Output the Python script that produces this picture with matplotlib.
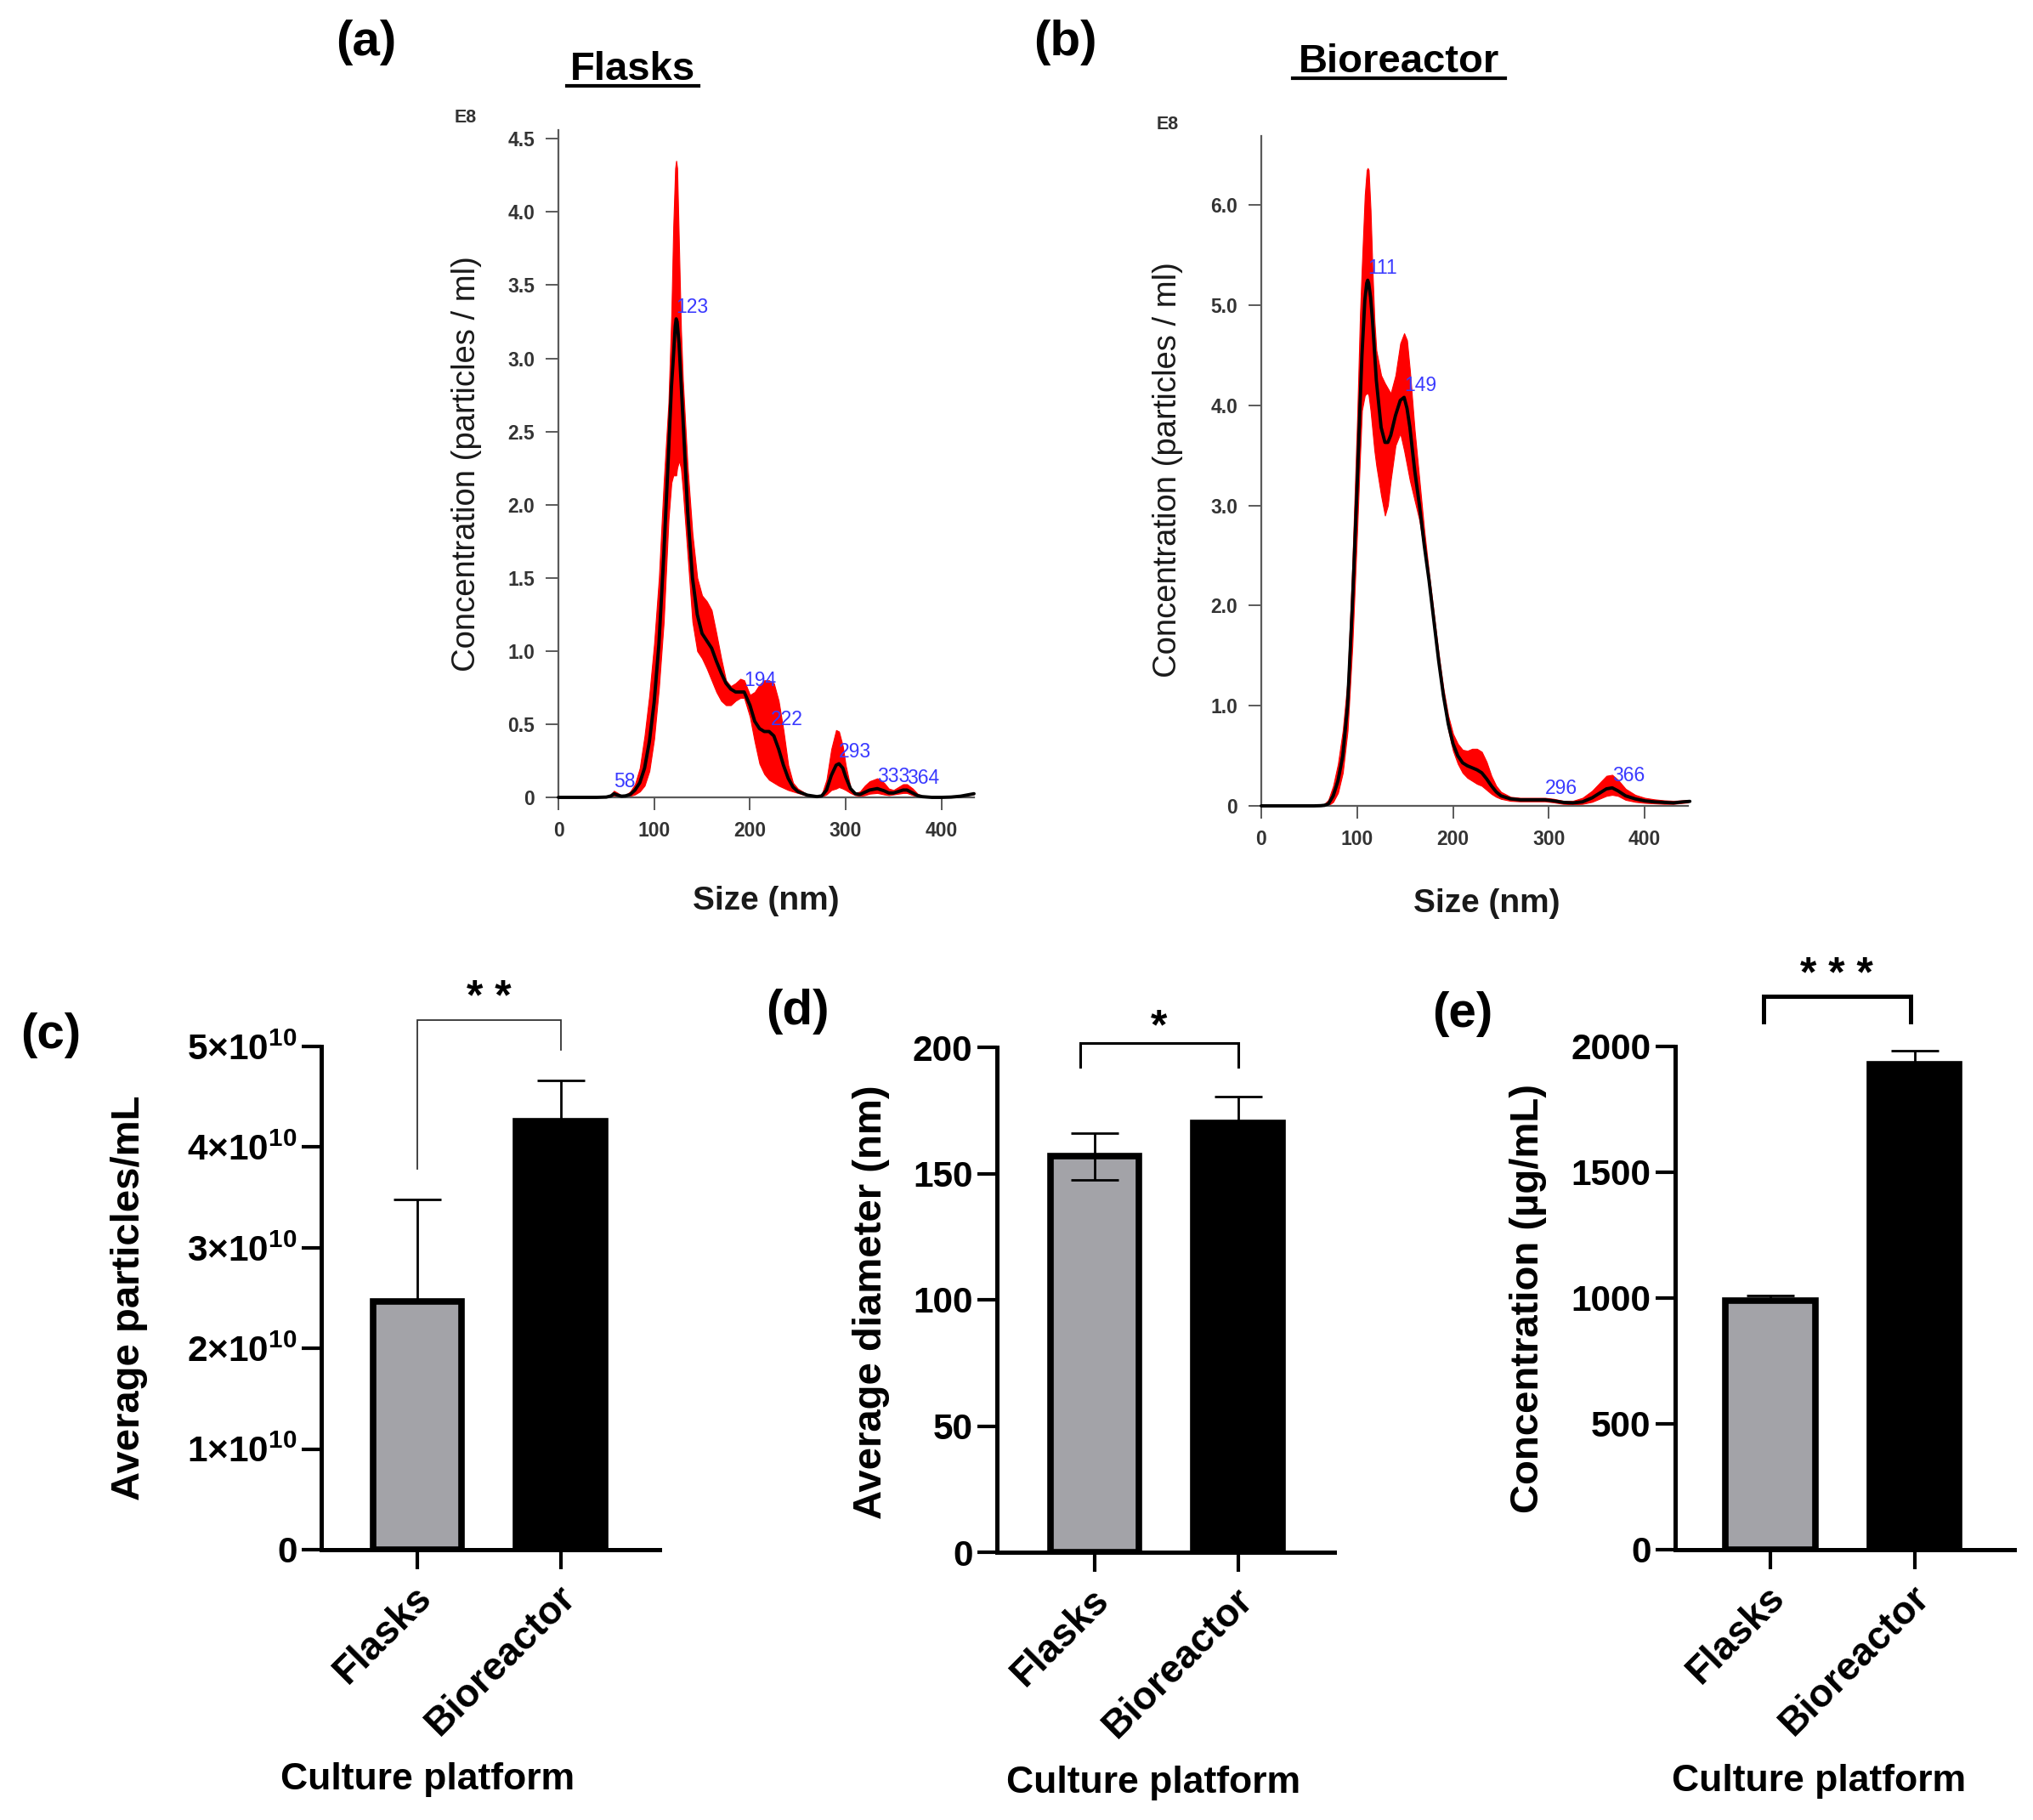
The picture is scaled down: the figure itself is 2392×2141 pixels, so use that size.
import matplotlib
matplotlib.use('Agg')
import matplotlib.pyplot as plt
from matplotlib.lines import Line2D
from matplotlib.transforms import ScaledTranslation

plt.rcParams['font.family'] = ['Liberation Sans', 'DejaVu Sans']
plt.rcParams['mathtext.fontset'] = 'custom'
plt.rcParams['mathtext.rm'] = 'Liberation Sans:bold'
plt.rcParams['mathtext.it'] = 'Liberation Sans:bold'
plt.rcParams['mathtext.bf'] = 'Liberation Sans:bold'

# ---------------- data: NTA size distribution, Flasks ----------------
sizes_a = [0, 20, 40, 50, 55, 58, 62, 66, 70, 75, 80, 85, 90, 95, 100, 105, 110, 115, 118, 120,
           122, 123, 124, 126, 128, 130, 135, 140, 145, 150, 155, 160, 165, 170, 175, 180, 185,
           190, 194, 200, 205, 210, 215, 220, 225, 230, 235, 240, 245, 250, 260, 270, 275, 280,
           285, 290, 293, 297, 300, 305, 310, 315, 320, 325, 333, 340, 345, 350, 355, 360, 364,
           370, 375, 380, 390, 400, 410, 420, 430, 434]
mean_a = [0, 0, 0, 0.002, 0.01, 0.025, 0.015, 0.008, 0.01, 0.02, 0.05, 0.1, 0.2, 0.38, 0.65, 1.05,
          1.65, 2.35, 2.8, 3.0, 3.22, 3.27, 3.25, 3.1, 2.85, 2.6, 1.95, 1.5, 1.25, 1.12, 1.07, 1.02,
          0.93, 0.85, 0.78, 0.74, 0.72, 0.72, 0.72, 0.63, 0.52, 0.47, 0.45, 0.45, 0.42, 0.33, 0.22,
          0.13, 0.07, 0.04, 0.015, 0.005, 0.01, 0.05, 0.15, 0.22, 0.23, 0.2, 0.14, 0.06, 0.025,
          0.02, 0.035, 0.05, 0.06, 0.045, 0.03, 0.03, 0.04, 0.05, 0.05, 0.03, 0.012, 0.005, 0,
          0, 0.002, 0.008, 0.02, 0.025]
upper_a = [0, 0, 0, 0.003, 0.02, 0.045, 0.03, 0.01, 0.015, 0.04, 0.09, 0.2, 0.42, 0.7, 1.05, 1.5,
           2.15, 2.7, 3.3, 3.9, 4.3, 4.35, 4.3, 3.75, 3.2, 2.85, 2.25, 1.8, 1.5, 1.38, 1.34,
           1.28, 1.12, 0.95, 0.8, 0.76, 0.78, 0.81, 0.8, 0.7, 0.72, 0.77, 0.8, 0.8, 0.78, 0.66,
           0.46, 0.22, 0.1, 0.06, 0.02, 0.006, 0.02, 0.12, 0.33, 0.46, 0.45, 0.35, 0.22, 0.07,
           0.03, 0.04, 0.08, 0.11, 0.13, 0.1, 0.06, 0.05, 0.07, 0.09, 0.09, 0.06, 0.025, 0.01, 0,
           0, 0.003, 0.01, 0.022, 0.028]
lower_a = [0, 0, 0, 0, 0.002, 0.01, 0.005, 0.004, 0.005, 0.01, 0.02, 0.04, 0.08, 0.18, 0.4, 0.75,
           1.2, 1.9, 2.15, 2.2, 2.2, 2.2, 2.25, 2.3, 2.25, 2.1, 1.65, 1.2, 1.0, 0.95, 0.88, 0.8,
           0.72, 0.66, 0.63, 0.63, 0.66, 0.68, 0.68, 0.55, 0.38, 0.23, 0.16, 0.12, 0.1, 0.08,
           0.065, 0.05, 0.04, 0.03, 0.01, 0.004, 0.005, 0.02, 0.05, 0.06, 0.07, 0.06, 0.05, 0.03,
           0.015, 0.01, 0.015, 0.025, 0.03, 0.02, 0.015, 0.02, 0.025, 0.03, 0.03, 0.015, 0.005,
           0.002, 0, 0, 0.001, 0.006, 0.018, 0.022]
peaks_a = [58, 123, 194, 222, 293, 333, 364]
peak_y_a = [0.025, 3.27, 0.72, 0.45, 0.23, 0.06, 0.05]

# ---------------- data: NTA size distribution, Bioreactor ----------------
sizes_b = [0, 20, 40, 55, 62, 66, 70, 75, 80, 85, 90, 95, 100, 103, 105, 108, 110, 111, 112, 114,
           116, 118, 120, 125, 129, 132, 135, 140, 145, 149, 152, 155, 160, 165, 170, 175, 180,
           185, 190, 195, 200, 205, 210, 215, 220, 225, 230, 235, 240, 245, 250, 260, 270, 280,
           290, 296, 305, 315, 325, 335, 345, 355, 360, 366, 372, 380, 390, 400, 410, 420, 430,
           440, 447]
mean_b = [0, 0, 0, 0, 0.002, 0.006, 0.02, 0.1, 0.25, 0.5, 1.0, 2.0, 3.2, 4.0, 4.5, 5.05, 5.22,
          5.25, 5.22, 5.08, 4.85, 4.55, 4.25, 3.78, 3.63, 3.63, 3.7, 3.9, 4.05, 4.08, 3.97, 3.78,
          3.35, 3.0, 2.6, 2.25, 1.85, 1.45, 1.1, 0.82, 0.62, 0.5, 0.43, 0.4, 0.38, 0.36, 0.33,
          0.27, 0.2, 0.14, 0.1, 0.07, 0.06, 0.06, 0.06, 0.06, 0.05, 0.035, 0.03, 0.04, 0.08,
          0.14, 0.17, 0.18, 0.15, 0.1, 0.07, 0.05, 0.04, 0.035, 0.03, 0.04, 0.045]
upper_b = [0, 0, 0, 0, 0.005, 0.02, 0.06, 0.2, 0.42, 0.75, 1.25, 2.4, 3.85, 4.9, 5.4, 6.1, 6.35,
           6.37, 6.35, 5.95, 5.35, 4.85, 4.55, 4.3, 4.22, 4.17, 4.12, 4.3, 4.62, 4.72, 4.65, 4.35,
           3.75, 3.25, 2.75, 2.32, 1.92, 1.52, 1.17, 0.9, 0.72, 0.62, 0.56, 0.55, 0.57, 0.57,
           0.54, 0.44, 0.3, 0.2, 0.14, 0.09, 0.08, 0.08, 0.08, 0.08, 0.07, 0.05, 0.05, 0.08,
           0.15, 0.25, 0.3, 0.31, 0.26, 0.17, 0.11, 0.08, 0.065, 0.055, 0.05, 0.055, 0.06]
lower_b = [0, 0, 0, 0, 0, 0.001, 0.005, 0.04, 0.13, 0.33, 0.75, 1.6, 2.75, 3.5, 3.95, 4.1, 4.12,
           4.12, 4.1, 3.95, 3.75, 3.55, 3.4, 3.1, 2.9, 3.0, 3.25, 3.6, 3.72, 3.55, 3.4, 3.25,
           3.05, 2.85, 2.55, 2.2, 1.8, 1.4, 1.05, 0.76, 0.55, 0.42, 0.33, 0.28, 0.25, 0.22, 0.2,
           0.16, 0.12, 0.09, 0.07, 0.05, 0.045, 0.045, 0.045, 0.045, 0.035, 0.02, 0.015, 0.02,
           0.04, 0.08, 0.1, 0.11, 0.1, 0.06, 0.04, 0.03, 0.025, 0.02, 0.02, 0.03, 0.035]
peaks_b = [111, 149, 296, 366]
peak_y_b = [5.25, 4.08, 0.06, 0.18]

yticks_a = [0, 0.5, 1.0, 1.5, 2.0, 2.5, 3.0, 3.5, 4.0, 4.5]
yticklabels_a = ['0', '0.5', '1.0', '1.5', '2.0', '2.5', '3.0', '3.5', '4.0', '4.5']
yticks_b = [0, 1.0, 2.0, 3.0, 4.0, 5.0, 6.0]
yticklabels_b = ['0', '1.0', '2.0', '3.0', '4.0', '5.0', '6.0']
xticks_nta = [0, 100, 200, 300, 400]

# ---------------- data: bar charts ----------------
platforms = ['Flasks', 'Bioreactor']
particles = [2.47e10, 4.26e10]
particles_err_lo = [0, 0.4e10]
particles_err_hi = [1.01e10, 0.4e10]
diameter = [156.8, 170.0]
diameter_err = [9.3, 10.6]
protein = [990, 1930]
protein_err_lo = [0, 52]
protein_err_hi = [20, 52]

particle_ticks = [0, 1e10, 2e10, 3e10, 4e10, 5e10]
particle_ticklabels = ['0', r'$1{\times}10^{10}$', r'$2{\times}10^{10}$', r'$3{\times}10^{10}$',
                       r'$4{\times}10^{10}$', r'$5{\times}10^{10}$']
diameter_ticks = [0, 50, 100, 150, 200]
protein_ticks = [0, 500, 1000, 1500, 2000]

# ---------------- figure ----------------
W, H = 2392, 2141
fig = plt.figure(figsize=(W / 100, H / 100), dpi=100)


def add_axes_px(left, right, bottom, top):
    return fig.add_axes([left / W, 1 - bottom / H, (right - left) / W, (bottom - top) / H])


def ftext(x, y, s, **kw):
    return fig.text(x / W, 1 - y / H, s, **kw)


GRAY_AX = '#5a5a5a'


def nta_panel(ax, sizes, mean, lo, hi, xmax, ymax, yticks, yticklabels, peaks, peak_y):
    ax.fill_between(sizes, lo, hi, color='#ff0000', lw=0.8, edgecolor='#ff0000', zorder=2)
    ax.plot(sizes, mean, color='black', lw=2.8, zorder=3, solid_joinstyle='round',
            solid_capstyle='round', clip_on=False)
    ax.set_xlim(0, xmax)
    ax.set_ylim(0, ymax)
    for s in ['top', 'right']:
        ax.spines[s].set_visible(False)
    for s in ['left', 'bottom']:
        ax.spines[s].set_color(GRAY_AX)
        ax.spines[s].set_linewidth(1.6)
    ax.set_xticks(xticks_nta)
    ax.set_xticklabels([str(v) for v in xticks_nta])
    ax.set_yticks(yticks)
    ax.set_yticklabels(yticklabels)
    ax.tick_params(length=11, width=1.4, color=GRAY_AX, labelsize=16.5,
                   labelcolor='#333333', pad=9)
    for lab in ax.get_xticklabels() + ax.get_yticklabels():
        lab.set_fontweight('bold')
    for px, py in zip(peaks, peak_y):
        ax.annotate(str(px), (px, py), xytext=(0, 10), textcoords='offset points',
                    ha='left', va='center', fontsize=16.5, color='#3a3aff', zorder=4)


ax_a = add_axes_px(657, 1146, 938, 153)
nta_panel(ax_a, sizes_a, mean_a, lower_a, upper_a, 434, 4.56, yticks_a, yticklabels_a,
          peaks_a, peak_y_a)
ax_b = add_axes_px(1484, 1986, 948, 160)
nta_panel(ax_b, sizes_b, mean_b, lower_b, upper_b, 445, 6.69, yticks_b, yticklabels_b,
          peaks_b, peak_y_b)

ftext(548, 139, 'E8', fontsize=15.5, fontweight='bold', color='#333333', ha='center', va='center')
ftext(1374, 147, 'E8', fontsize=15.5, fontweight='bold', color='#333333', ha='center', va='center')
ftext(549, 546, 'Concentration (particles / ml)', fontsize=27.5, color='#1a1a1a',
      rotation=90, ha='center', va='center')
ftext(1374, 553, 'Concentration (particles / ml)', fontsize=27.5, color='#1a1a1a',
      rotation=90, ha='center', va='center')
ftext(901, 1060, 'Size (nm)', fontsize=28, fontweight='bold', ha='center', va='center',
      color='#1a1a1a')
ftext(1749, 1063, 'Size (nm)', fontsize=28, fontweight='bold', ha='center', va='center',
      color='#1a1a1a')

# titles with underline
ftext(744, 94, 'Flasks', fontsize=34, fontweight='bold', ha='center', va='baseline')
ftext(1646, 85, 'Bioreactor', fontsize=34, fontweight='bold', ha='center', va='baseline')
fig.add_artist(Line2D([667 / W, 822 / W], [1 - 101 / H, 1 - 101 / H], color='black', lw=3))
fig.add_artist(Line2D([1521 / W, 1771 / W], [1 - 92 / H, 1 - 92 / H], color='black', lw=3))

# panel labels
for lbl, (x, y) in zip(['(a)', '(b)', '(c)', '(d)', '(e)'],
                       [(431, 50), (1253, 50), (60, 1218), (938, 1190), (1721, 1193)]):
    ftext(x, y, lbl, fontsize=42, fontweight='bold', ha='center', va='center')

# ---------------- bar panels ----------------
BAR_COLORS = ['#a3a3a8', '#000000']


def bar_panel(ax, vals, err_lo, err_hi, ymax, ticks, ticklabels, xlim):
    x = [0, 1]
    ax.bar(x, vals, width=0.62, color=BAR_COLORS, edgecolor='black', linewidth=5.5, zorder=2)
    ax.errorbar(x, vals, yerr=[err_lo, err_hi], fmt='none', ecolor='black', elinewidth=2,
                capsize=20.5, capthick=2, zorder=3)
    ax.set_xlim(*xlim)
    ax.set_ylim(0, ymax)
    for s in ['top', 'right']:
        ax.spines[s].set_visible(False)
    for s in ['left', 'bottom']:
        ax.spines[s].set_linewidth(3.6)
        ax.spines[s].set_capstyle('projecting')
    ax.set_yticks(ticks)
    ax.set_yticklabels(ticklabels)
    ax.set_xticks(x)
    ax.set_xticklabels(platforms)
    ax.tick_params(axis='y', length=16.5, width=3, labelsize=30.5, pad=4)
    ax.tick_params(axis='x', length=16.5, width=3, labelsize=33, pad=8)
    for lab in ax.get_yticklabels():
        lab.set_fontweight('bold')
    off = ScaledTranslation(-5 / 100, 0, fig.dpi_scale_trans)
    for lab in ax.get_xticklabels():
        lab.set_fontweight('bold')
        lab.set_rotation(45)
        lab.set_ha('right')
        lab.set_va('top')
        lab.set_rotation_mode('anchor')
        lab.set_transform(lab.get_transform() + off)


def bracket(ax, x0, x1, y_left, y_right, y_top, stars, star_y, lw, color='black', fs=36):
    ax.plot([x0, x0, x1, x1], [y_left, y_top, y_top, y_right], color=color, lw=lw,
            clip_on=False, solid_joinstyle='miter', zorder=4)
    ax.annotate(stars, ((x0 + x1) / 2, star_y), xytext=(0, -20.5), textcoords='offset points',
                ha='center', va='baseline', fontsize=fs, fontweight='bold', annotation_clip=False)


ax_c = add_axes_px(378, 776, 1823, 1231)
bar_panel(ax_c, particles, particles_err_lo, particles_err_hi, 5e10, particle_ticks,
          particle_ticklabels, (-0.67, 1.69))
bracket(ax_c, 0.0, 1.0, 3.78e10, 4.97e10, 5.26e10, '* *', 5.6e10, 1.3, color='#333333')

ax_d = add_axes_px(1173, 1570, 1826, 1232)
bar_panel(ax_d, diameter, diameter_err, diameter_err, 200, diameter_ticks,
          [str(v) for v in diameter_ticks], (-0.68, 1.67))
bracket(ax_d, -0.1, 1.0, 192.3, 192.3, 201.7, '*', 213, 2.2)

ax_e = add_axes_px(1971, 2370, 1823, 1231)
bar_panel(ax_e, protein, protein_err_lo, protein_err_hi, 2000, protein_ticks,
          [str(v) for v in protein_ticks], (-0.66, 1.69))
bracket(ax_e, -0.05, 0.97, 2098, 2098, 2199, '* * *', 2331, 3.6)

ftext(152, 1527, 'Average particles/mL', fontsize=34, fontweight='bold', rotation=90,
      ha='center', va='center')
ftext(1025, 1532, 'Average diameter (nm)', fontsize=34, fontweight='bold', rotation=90,
      ha='center', va='center')
ftext(1798, 1527, 'Concentration (\u00b5g/mL)', fontsize=34, fontweight='bold', rotation=90,
      ha='center', va='center')
for x, y in [(503, 2093), (1357, 2097), (2140, 2096)]:
    ftext(x, y, 'Culture platform', fontsize=32, fontweight='bold', ha='center', va='center')

fig.savefig('out.png', dpi=100)
